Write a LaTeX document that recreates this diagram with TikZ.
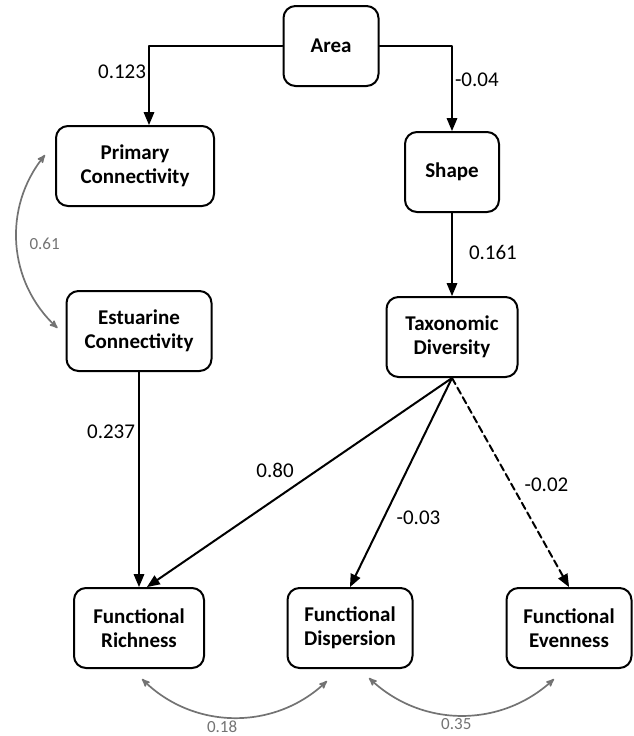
\documentclass[tikz,border=0pt]{standalone}
\usepackage{fontspec}
\setmainfont{Carlito}
\usetikzlibrary{arrows}
\definecolor{xtxtxt}{rgb}{0.45,0.45,0.45}

\begin{document}
\begin{tikzpicture}[line cap=round,line join=round,>=triangle 45,x=1pt,y=-1pt,
	varbox/.style={draw,line width=2pt,rounded corners=12pt,align=center,minimum height=80pt,font=\fontsize{21}{23.5}\selectfont\bfseries},
	effect/.style={->,line width=2pt},
	coef/.style={font=\fontsize{21}{24}\selectfont,inner sep=2pt},
	covar/.style={stealth'-stealth',line width=1.7pt,color=xtxtxt},
	covcoef/.style={font=\fontsize{17}{20}\selectfont,color=xtxtxt,inner sep=2pt}]
		\useasboundingbox (0,0) rectangle (633,736);
		\node[varbox,minimum width=95pt] (area) at (331,46) {Area};
		\node[varbox,minimum width=158pt] (prim) at (135,166) {Primary\\Connectivity};
		\node[varbox,minimum width=94pt] (shape) at (452,172) {Shape};
		\node[varbox,minimum width=145pt] (estu) at (139,331) {Estuarine\\Connectivity};
		\node[varbox,minimum width=131pt] (taxo) at (452,337) {Taxonomic\\Diversity};
		\node[varbox,minimum width=130pt] (frich) at (139,628) {Functional\\Richness};
		\node[varbox,minimum width=125pt] (fdisp) at (350,628) {Functional\\Dispersion};
		\node[varbox,minimum width=125pt] (feven) at (569,628) {Functional\\Evenness};
		\draw [effect] (area.west) -| ([xshift=14pt]prim.north) node[coef,pos=0.66,left] {0.123};
		\draw [effect] (area.east) -| (shape.north) node[coef,pos=0.70,right] {-0.04};
		\draw [effect] (shape) -- (taxo) node[coef,pos=0.48,right,xshift=14pt] {0.161};
		\draw [effect] (estu) -- (frich) node[coef,pos=0.28,left,xshift=-1pt] {0.237};
		\draw [effect] (taxo.south) -- ([xshift=8pt]frich.north) node[coef,pos=0.58,above,yshift=19pt] {0.80};
		\draw [effect] (taxo.south) -- (fdisp.north) node[coef,pos=0.67,right,xshift=10pt] {-0.03};
		\draw [effect,dash pattern=on 7pt off 4pt] (taxo.south) -- (feven.north) node[coef,pos=0.51,right,xshift=10pt] {-0.02};
		\draw [covar] ([xshift=-10pt,yshift=11pt]prim.west) to[bend right=43] node[covcoef,right,xshift=10pt] {0.61} ([xshift=-8pt,yshift=3pt]estu.west);
		\draw [covar] ([xshift=3pt,yshift=-10pt]frich.south) to[bend right=44] node[covcoef,below,xshift=-12pt] {0.18} ([xshift=-23pt,yshift=-12pt]fdisp.south);
		\draw [covar] ([xshift=19pt,yshift=-9pt]fdisp.south) to[bend right=43] node[covcoef,below,xshift=-5pt] {0.35} ([xshift=-15pt,yshift=-10pt]feven.south);
\end{tikzpicture}
\end{document}
